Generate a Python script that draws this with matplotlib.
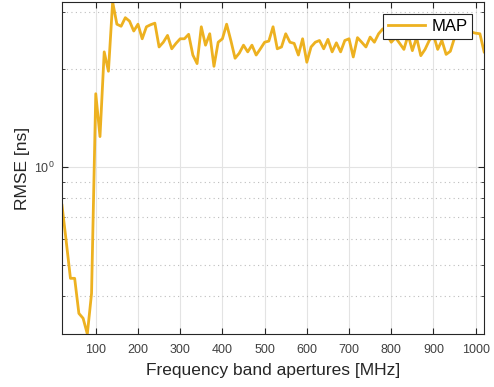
import numpy as np
import matplotlib
matplotlib.use('Agg')
import matplotlib.pyplot as plt
from matplotlib.ticker import LogLocator, NullFormatter

plt.rcParams['font.family'] = ['Liberation Sans', 'DejaVu Sans']

# frequency band apertures [MHz]
aperture = np.arange(20, 1021, 10)

# RMSE [ns]
rmse_map = [
    0.762, 0.59, 0.454, 0.454, 0.354, 0.342, 0.306, 0.408, 1.68, 1.24,
    2.26, 1.97, 3.22, 2.75, 2.71, 2.88, 2.81, 2.62, 2.75, 2.48,
    2.70, 2.74, 2.77, 2.34, 2.42, 2.54, 2.31, 2.40, 2.48, 2.48,
    2.56, 2.21, 2.08, 2.70, 2.37, 2.57, 2.04, 2.42, 2.48, 2.75,
    2.45, 2.16, 2.24, 2.37, 2.26, 2.37, 2.21, 2.31, 2.42, 2.44,
    2.70, 2.31, 2.34, 2.57, 2.42, 2.40, 2.21, 2.48, 2.10, 2.34,
    2.42, 2.45, 2.31, 2.47, 2.26, 2.41, 2.26, 2.45, 2.48, 2.18,
    2.50, 2.42, 2.34, 2.51, 2.42, 2.57, 2.66, 2.55, 2.42, 2.50,
    2.40, 2.30, 2.55, 2.28, 2.50, 2.20, 2.30, 2.45, 2.55, 2.30,
    2.45, 2.22, 2.27, 2.50, 2.55, 2.60, 2.55, 2.60, 2.58, 2.57,
    2.26,
]

xticks = list(range(100, 1001, 100))

fig = plt.figure(figsize=(4.94, 3.87), dpi=100)
ax = fig.add_axes([0.1255, 0.137, 0.8545, 0.858])

ax.plot(aperture, rmse_map, color='#EDB120', lw=2.0, label='MAP')

ax.set_yscale('log')
ax.set_xlim(20, 1020)
ax.set_ylim(min(rmse_map), max(rmse_map))
ax.set_xticks(xticks)
ax.yaxis.set_major_locator(LogLocator(base=10))
ax.yaxis.set_minor_locator(LogLocator(base=10, subs=np.arange(2, 10)))
ax.yaxis.set_minor_formatter(NullFormatter())

ax.grid(True, which='major', color='#e3e3e3', lw=0.8, ls='-')
ax.grid(True, which='minor', axis='y', color='#bdbdbd', lw=0.8, ls=(0, (1, 3)))
ax.set_axisbelow(True)

ax.tick_params(which='both', direction='in', top=True, right=True,
               labelsize=9, colors='#262626', labelcolor='#404040', length=4)
ax.tick_params(which='minor', length=2.5)
ax.tick_params(axis='x', pad=7)
ax.tick_params(axis='y', pad=5)
for s in ax.spines.values():
    s.set_color('#262626')
    s.set_linewidth(0.8)

ax.set_xlabel('Frequency band apertures [MHz]', fontsize=12.5, color='#262626', labelpad=5)
ax.set_ylabel('RMSE [ns]', fontsize=12.5, color='#262626', labelpad=3)

leg = ax.legend(loc='upper right', fontsize=12, fancybox=False, framealpha=1,
                edgecolor='#262626', borderpad=0.3, handlelength=2.2,
                handletextpad=0.4, borderaxespad=0.7)
leg.get_frame().set_linewidth(0.8)

fig.savefig('out.png', dpi=100)
